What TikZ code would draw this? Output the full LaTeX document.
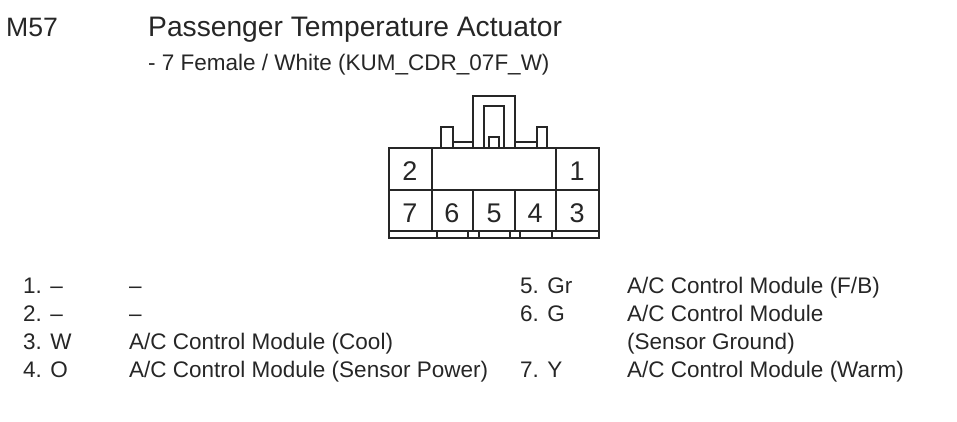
\documentclass[tikz,border=0pt]{standalone}
\usepackage{fontspec}
\setmainfont{Liberation Sans}
\tikzset{
  lbl/.style={anchor=base west,inner sep=0pt,text=black!85,font=\fontsize{22.5}{24}\selectfont},
  pinno/.style={anchor=base,inner sep=0pt,text=black!85,font=\fontsize{27}{29}\selectfont},
  title/.style={anchor=base west,inner sep=0pt,text=black!85,font=\fontsize{28.2}{30}\selectfont},
  sub/.style={anchor=base west,inner sep=0pt,text=black!85,font=\fontsize{22.5}{24}\selectfont},
  wire/.style={draw=black!85,line width=1.3pt}
}
\begin{document}
\begin{tikzpicture}[x=1pt,y=-1pt]
    \useasboundingbox (0,0) rectangle (957,421);
    \node [title,font=\fontsize{26.6}{30}\selectfont] (id) at (6,36) {M57};
    \node [title] (name) at (148,36) {Passenger Temperature Actuator};
    \node [sub] (kind) at (148,70) {- 7 Female / White (KUM\_CDR\_07F\_W)};
    % housing
    \draw [wire] (389,148) rectangle (599,238);
    \draw [wire] (389,190) -- (599,190);
    \draw [wire] (389,231) -- (599,231);
    \draw [wire] (432,148) -- (432,231);
    \draw [wire] (556,148) -- (556,231);
    \draw [wire] (473,190) -- (473,231);
    \draw [wire] (515,190) -- (515,231);
    % latch
    \draw [wire] (441,148) -- (441,127) -- (453,127) -- (453,148);
    \draw [wire] (537,148) -- (537,127) -- (547,127) -- (547,148);
    \draw [wire] (453,142) -- (473,142);
    \draw [wire] (515,142) -- (537,142);
    \draw [wire] (473,148) -- (473,96) -- (515,96) -- (515,148);
    \draw [wire] (484,148) -- (484,106) -- (504,106) -- (504,148);
    \draw [wire] (489,148) -- (489,137) -- (499,137) -- (499,148);
    % foot
    \foreach \x in {437,468,479,510,520,552} {
        \draw [wire] (\x,231) -- (\x,238);
      }
    % pins
    \foreach \n/\x/\y in {2/410/180,1/577/180,7/410/222,6/452/222,5/494/222,4/535/222,3/577/222} {
        \node [pinno] (pin\n) at (\x,\y) {\n};
      }
    % left table
    \foreach \n/\t/\y in {a/1. --/293,b/2. --/321,c/3. W/349,d/4. O/377} {
        \node [lbl] (no\n) at (23,\y) {\t};
      }
    \foreach \n/\t/\y in {a/--/293,b/--/321,c/A\slash C Control Module (Cool)/349,d/A\slash C Control Module (Sensor Power)/377} {
        \node [lbl] (txt\n) at (129,\y) {\t};
      }
    % right table
    \foreach \n/\t/\y in {e/5. Gr/293,f/6. G/321,g/7. Y/377} {
        \node [lbl] (no\n) at (520,\y) {\t};
      }
    \foreach \n/\t/\y in {e/A\slash C Control Module (F\slash B)/293,f/A\slash C Control Module/321,h/(Sensor Ground)/349,g/A\slash C Control Module (Warm)/377} {
        \node [lbl] (txt\n) at (627,\y) {\t};
      }
  \end{tikzpicture}
\end{document}
